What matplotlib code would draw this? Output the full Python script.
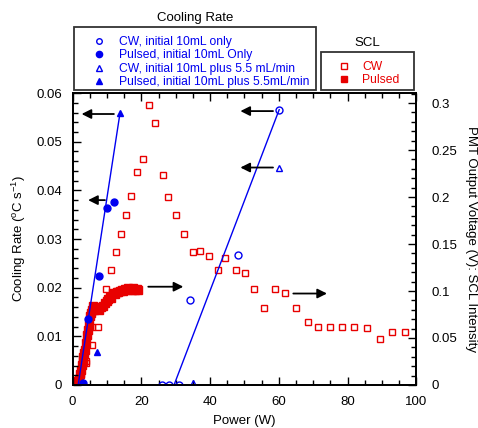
import numpy as np
import matplotlib
matplotlib.use('Agg')
from matplotlib import pyplot as plt
from matplotlib.lines import Line2D
from matplotlib.patches import Rectangle
from matplotlib.ticker import MultipleLocator

plt.rcParams['font.family'] = ['Liberation Sans', 'DejaVu Sans']

BLUE = '#0000f0'
RED = '#e80000'

# cooling rate data (left axis)
cw_10_x = [25.9, 28.0, 30.9, 34.1, 48.1, 60.1]
cw_10_y = [0.0, 0.0, 0.0, 0.0175, 0.0267, 0.0566]
pulsed_10_x = [3.1, 4.4, 7.7, 9.9, 12.0]
pulsed_10_y = [0.0004, 0.0136, 0.0225, 0.0364, 0.0377]
cw_flow_x = [35.1, 60.1]
cw_flow_y = [0.0004, 0.0447]
pulsed_flow_x = [7.0, 13.8]
pulsed_flow_y = [0.0068, 0.0560]

# linear fits drawn through the cooling rate data
fit_pulsed_x = [1.6, 13.8]
fit_pulsed_y = [0.0, 0.0560]
fit_cw_x = [29.5, 60.1]
fit_cw_y = [0.0, 0.0566]

# SCL intensity data (right axis)
scl_cw_x = [0.3, 0.8, 1.3, 1.8, 2.4, 3.9, 4.0, 5.5, 5.7, 7.4, 9.7, 11.1, 12.6,
            14.0, 15.4, 16.9, 18.6, 20.4, 22.3, 24.1, 26.2, 27.8, 30.2, 32.4,
            34.9, 37.0, 39.6, 42.3, 44.4, 47.4, 50.2, 52.9, 55.7, 58.9, 61.9,
            65.0, 68.4, 71.5, 74.9, 78.5, 82.0, 85.5, 89.3, 92.9, 96.6]
scl_cw_y = [0.002, 0.003, 0.002, 0.004, 0.012, 0.023, 0.025, 0.043, 0.062,
            0.062, 0.102, 0.122, 0.142, 0.161, 0.181, 0.201, 0.227, 0.240,
            0.298, 0.279, 0.223, 0.200, 0.181, 0.161, 0.142, 0.143, 0.137,
            0.122, 0.135, 0.122, 0.119, 0.102, 0.082, 0.102, 0.098, 0.082,
            0.067, 0.062, 0.062, 0.062, 0.062, 0.061, 0.049, 0.056, 0.056]
scl_pulsed_x = [0.0, 0.3, 0.6, 0.9, 1.2, 1.5, 1.8, 2.1, 2.3, 2.6, 2.9, 3.1,
                3.4, 3.6, 3.9, 4.1, 4.4, 4.8, 5.0, 5.3, 5.5, 5.9, 6.3, 6.8,
                7.3, 7.8, 8.3, 8.8, 9.4, 9.9, 10.4, 10.9, 11.3, 11.8, 12.3,
                12.8, 13.3, 13.8, 14.3, 14.7, 15.2, 15.7, 16.2, 16.7, 17.2,
                17.6, 18.1, 18.6, 19.1]
scl_pulsed_y = [0.002, 0.001, 0.003, 0.002, 0.004, 0.003, 0.006, 0.012,
                0.016, 0.021, 0.026, 0.030, 0.034, 0.037, 0.045, 0.053,
                0.058, 0.064, 0.073, 0.077, 0.080, 0.084, 0.080, 0.082,
                0.081, 0.080, 0.083, 0.084, 0.087, 0.089, 0.092, 0.094,
                0.093, 0.0975, 0.097, 0.099, 0.099, 0.100, 0.101, 0.100,
                0.102, 0.101, 0.103, 0.102, 0.101, 0.103, 0.101, 0.102, 0.101]

# arrows: (start x, end x, y on the left axis)
arrow_x0 = [12.0, 9.4, 58.3, 58.3, 22.0, 64.2]
arrow_x1 = [2.6, 4.5, 48.8, 48.8, 32.2, 74.0]
arrow_y = [0.0557, 0.0380, 0.0563, 0.0447, 0.0202, 0.0188]

cool_labels = ['CW, initial 10mL only', 'Pulsed, initial 10mL Only',
               'CW, initial 10mL plus 5.5 mL/min',
               'Pulsed, initial 10mL plus 5.5mL/min']
scl_labels = ['CW', 'Pulsed']

fig = plt.figure(figsize=(4.78, 4.28), dpi=100)
ax = fig.add_axes([0.152, 0.1005, 0.719, 0.682])
ax2 = ax.twinx()

ax2.plot(scl_pulsed_x, scl_pulsed_y, 's', color=RED, ms=5.5, mec=RED)
ax2.plot(scl_cw_x, scl_cw_y, 's', mfc='none', mec=RED, ms=5, mew=1)

ax.plot(fit_pulsed_x, fit_pulsed_y, '-', color=BLUE, lw=1)
ax.plot(fit_cw_x, fit_cw_y, '-', color=BLUE, lw=1)
ax.plot(cw_10_x, cw_10_y, 'o', mfc='none', mec=BLUE, ms=5, mew=1)
ax.plot(pulsed_10_x, pulsed_10_y, 'o', color=BLUE, ms=5)
ax.plot(cw_flow_x, cw_flow_y, '^', mfc='none', mec=BLUE, ms=4.5, mew=1)
ax.plot(pulsed_flow_x, pulsed_flow_y, '^', color=BLUE, ms=5)
ax.set_zorder(ax2.get_zorder() + 1)
ax.patch.set_visible(False)

for x0, x1, y in zip(arrow_x0, arrow_x1, arrow_y):
    ax.annotate('', xy=(x1, y), xytext=(x0, y),
                arrowprops=dict(arrowstyle='-|>', color='black', lw=1.3,
                                mutation_scale=14, shrinkA=0, shrinkB=0))

ax.set_xlim(0, 100)
ax.set_ylim(0, 0.06)
ax2.set_ylim(0, 0.3106)
ax.xaxis.set_major_locator(MultipleLocator(20))
ax.xaxis.set_minor_locator(MultipleLocator(5))
ax.yaxis.set_minor_locator(MultipleLocator(0.002))
ax2.yaxis.set_minor_locator(MultipleLocator(0.01))
ax.set_yticks([0, 0.01, 0.02, 0.03, 0.04, 0.05, 0.06],
              ['0', '0.01', '0.02', '0.03', '0.04', '0.05', '0.06'])
ax2.set_yticks([0, 0.05, 0.1, 0.15, 0.2, 0.25, 0.3],
               ['0', '0.05', '0.1', '0.15', '0.2', '0.25', '0.3'])
ax.tick_params(which='both', direction='in', top=True, labelsize=9.5, width=1)
ax.tick_params(which='major', length=6)
ax.tick_params(which='minor', length=3.5)
ax.tick_params(axis='x', which='major', pad=8)
ax.tick_params(axis='y', which='major', pad=7.5)
ax2.tick_params(which='both', direction='in', labelsize=9.5, width=1)
ax2.tick_params(which='major', length=6, pad=11)
ax2.tick_params(which='minor', length=3.5)
for a in (ax, ax2):
    for s in a.spines.values():
        s.set_linewidth(1.3)

ax.set_xlabel('Power (W)', fontsize=9.5, labelpad=5)
ax.set_ylabel('Cooling Rate ($\\mathregular{^o}$C s$\\mathregular{^{-1}}$)',
              fontsize=9.5, labelpad=6)
ax2.set_ylabel('PMT Output Voltage (V): SCL Intensity', fontsize=9.5,
               rotation=270, labelpad=14)

# legend boxes above the plot
fig.patches.append(Rectangle((74 / 478, 1 - 90 / 428), 242 / 478, 63.3 / 428,
                             transform=fig.transFigure, fill=False,
                             lw=1.3, ec='#333333'))
fig.patches.append(Rectangle((320.7 / 478, 1 - 90 / 428), 93.6 / 478, 38.3 / 428,
                             transform=fig.transFigure, fill=False,
                             lw=1.3, ec='#333333'))
fig.text(195 / 478, 1 - 18 / 428, 'Cooling Rate', ha='center', va='center', fontsize=9.5)
fig.text(367 / 478, 1 - 43 / 428, 'SCL', ha='center', va='center', fontsize=9.5)

cool_handles = [
    Line2D([], [], ls='none', marker='o', mfc='none', mec=BLUE, ms=4, mew=1),
    Line2D([], [], ls='none', marker='o', color=BLUE, ms=4.5),
    Line2D([], [], ls='none', marker='^', mfc='none', mec=BLUE, ms=4, mew=1),
    Line2D([], [], ls='none', marker='^', color=BLUE, ms=4.5),
]
leg1 = fig.legend(cool_handles, cool_labels, loc='upper left',
                  bbox_to_anchor=(80 / 478, 1 - 30 / 428), frameon=False,
                  fontsize=8.7, labelcolor=BLUE, handlelength=2.2,
                  handletextpad=0.5, labelspacing=0.12, borderpad=0)
scl_handles = [
    Line2D([], [], ls='none', marker='s', mfc='none', mec=RED, ms=4.5, mew=1),
    Line2D([], [], ls='none', marker='s', color=RED, ms=5),
]
leg2 = fig.legend(scl_handles, scl_labels, loc='upper left',
                  bbox_to_anchor=(325 / 478, 1 - 55 / 428), frameon=False,
                  fontsize=8.7, labelcolor=RED, handlelength=2.2,
                  handletextpad=0.4, labelspacing=0.12, borderpad=0)

fig.savefig('out.png', dpi=100)
